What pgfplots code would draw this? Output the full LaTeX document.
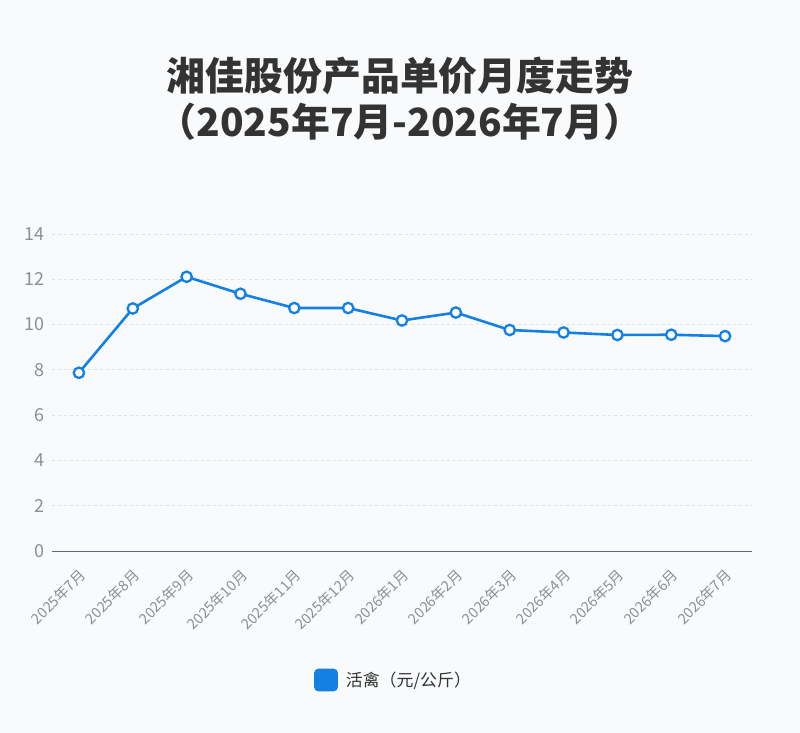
\documentclass[border=0pt]{standalone}
\usepackage{pgfplots}
\pgfplotsset{compat=1.18}
\usepackage{fontspec}
\setmainfont{Noto Sans CJK SC}
\definecolor{bg}{HTML}{F8FAFC}
\definecolor{lineblue}{HTML}{1480E4}
\definecolor{gridc}{HTML}{DEE1E6}
\definecolor{tickc}{HTML}{8A8F98}
\definecolor{titlec}{HTML}{333333}
\begin{document}
\begin{tikzpicture}[x=1bp,y=1bp]
\fill[bg] (0,0) rectangle (800,733);
\useasboundingbox (0,0) rectangle (800,733);
\node[font=\fontsize{39}{46}\selectfont\bfseries, text=titlec] at (400,657) {湘佳股份产品单价月度走势};
\node[font=\fontsize{39}{46}\selectfont\bfseries, text=titlec] at (400,611) {（2025年7月-2026年7月）};
\begin{axis}[
  at={(52bp,182bp)}, anchor=south west,
  scale only axis, width=700bp, height=317bp,
  xmin=-0.5, xmax=12.5, ymin=0, ymax=14,
  ytick={0,2,...,14},
  xtick={0,...,12},
  xticklabels={2025年7月,2025年8月,2025年9月,2025年10月,2025年11月,2025年12月,2026年1月,2026年2月,2026年3月,2026年4月,2026年5月,2026年6月,2026年7月},
  axis x line*=bottom, axis y line*=left,
  y axis line style={draw=none},
  x axis line style={draw=black!60, line width=0.8bp, -},
  major tick length=0pt,
  ymajorgrids, major grid style={gridc, dashed, line width=0.7bp},
  /pgf/number format/assume math mode=true,
  yticklabel style={font=\fontsize{18}{18}\selectfont, text=tickc, xshift=-4bp},
  xticklabel style={font=\fontsize{14.5}{14.5}\selectfont, text=tickc, rotate=45, anchor=east, xshift=-9bp, yshift=-18bp},
  legend style={at={(0.488,-0.407)}, anchor=center, draw=none, fill=none, font=\fontsize{17}{17}\selectfont, text=titlec},
  legend cell align=left,
]
\addplot[lineblue, line width=2.6bp, mark=*, mark size=5.2bp, mark options={fill=white, draw=lineblue, line width=2.3bp},
  legend image code/.code={\fill[lineblue, rounded corners=3bp] (0bp,-10bp) rectangle (21bp,10bp);}]
  coordinates {(0,7.87) (1,10.71) (2,12.11) (3,11.36) (4,10.73) (5,10.73) (6,10.18) (7,10.53) (8,9.76) (9,9.65) (10,9.54) (11,9.55) (12,9.49)};
\addlegendentry{\hspace{6bp}活禽（元/公斤）}
\end{axis}
\end{tikzpicture}
\end{document}
